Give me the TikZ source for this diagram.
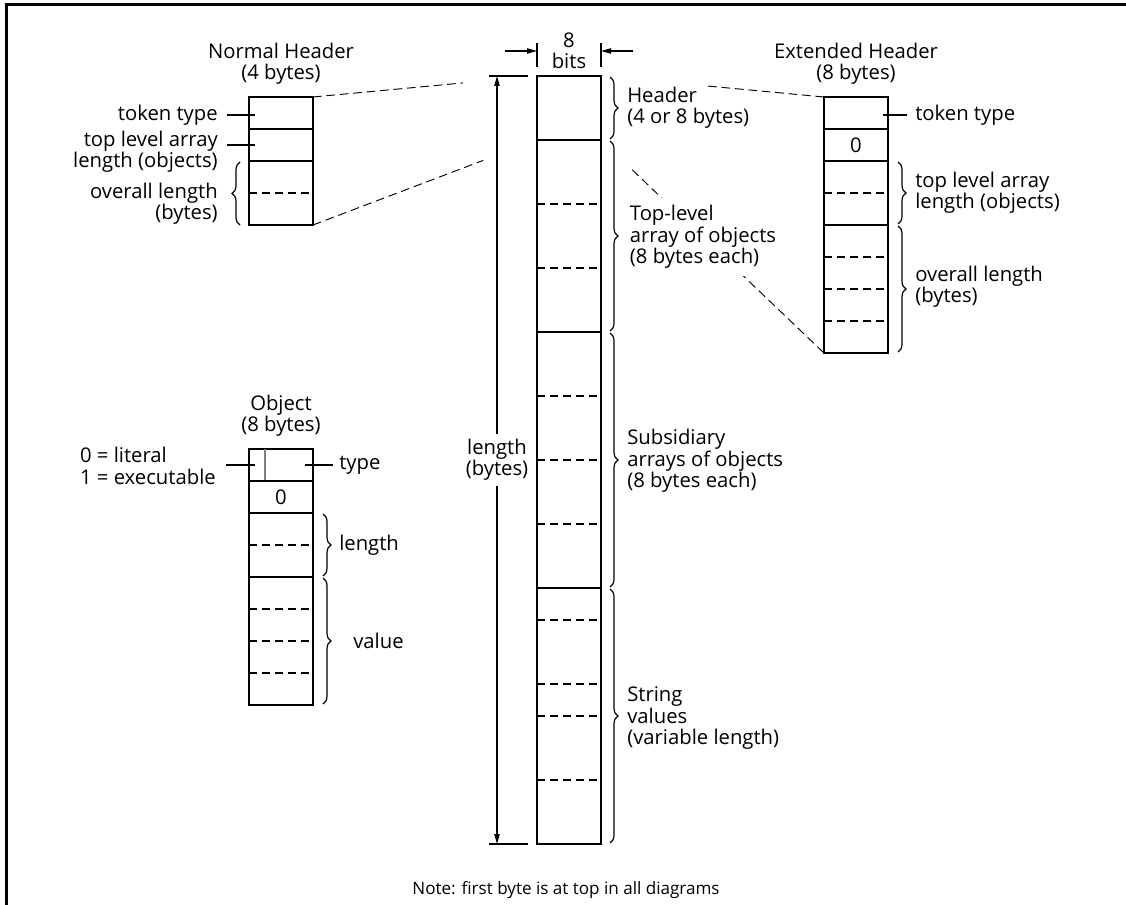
\documentclass[tikz,border=0pt]{standalone}
\usepackage{fontspec}
\setmainfont{Open Sans}
\usetikzlibrary{arrows.meta, positioning, calc, decorations.pathreplacing}
\tikzset{
	frame/.style   ={line width=1.6pt},
	cellbox/.style ={draw=black, line width=1.1pt},
	solidsep/.style={line width=1.1pt},
	dashsep/.style ={line width=0.9pt, dash pattern=on 6pt off 3.75pt},
	zoomline/.style={line width=0.7pt, dash pattern=on 6.5pt off 3.6pt},
	lead/.style    ={line width=0.9pt},
	brc/.style     ={decorate, decoration={brace, amplitude=6pt}, line width=0.9pt},
	lbl/.style     ={align=left, inner sep=0pt},
	rlbl/.style    ={align=right, inner sep=0pt},
	ttl/.style     ={align=center, inner sep=0pt},
	dimarrow/.style={-{Triangle[length=7.5pt, width=4pt]}, line width=0.8pt},
}

\begin{document}
\begin{tikzpicture}[x=0.75pt, y=-0.75pt, font=\fontsize{15.2}{16}\selectfont]
	\useasboundingbox (0,0) rectangle (1126,905);
	% frame
	\draw[frame] (6.5,910) -- (6.5,4.5) -- (1130,4.5);

	% main column
	\coordinate (colNW) at (537,76);
	\coordinate (colNE) at (601,76);
	\coordinate (colHW) at (537,140);
	\coordinate (colHE) at (601,140);
	\draw[cellbox] (colNW) rectangle (601,844);
	\foreach \y in {140,332,588} \draw[solidsep] (537,\y) -- (601,\y);
	\foreach \y in {204,268,396,460,524,620,684,716,780} \draw[dashsep] (537,\y) -- (601,\y);
	% width 8 bits
	\draw[lead] (537,43) -- (537,67);
	\draw[lead] (601,43) -- (601,67);
	\coordinate (wlin) at (537,51);
	\coordinate (wlout) at (505,51);
	\coordinate (wrin) at (601,51);
	\coordinate (wrout) at (633,51);
	\draw[dimarrow] (wlout) -- (wlin);
	\draw[dimarrow] (wrout) -- (wrin);
	\node[ttl] (bits) at (569,51) {8\\bits};
	% length
	\coordinate (lentop) at (497,76);
	\coordinate (lenbot) at (497,844);
	\draw[lead] (489,76) -- (528,76);
	\draw[lead] (489,844) -- (528,844);
	\node[ttl, fill=white, inner sep=4pt] (lenlbl) at (497,460) {length\\(bytes)};
	\draw[dimarrow] (lenlbl) -- (lentop);
	\draw[dimarrow] (lenlbl) -- (lenbot);
	% braces of main column
	\draw[brc] (610,77) -- (610,139);
	\draw[brc] (610,141) -- (610,331);
	\draw[brc] (610,333) -- (610,587);
	\draw[brc] (610,589) -- (610,843);

	% normal header
	\coordinate (nhNE) at (313,97);
	\coordinate (nhSE) at (313,225);
	\draw[cellbox] (249,97) rectangle (nhSE);
	\foreach \y in {129,161} \draw[solidsep] (249,\y) -- (313,\y);
	\draw[dashsep] (249,193) -- (313,193);
	\node[ttl] (nhttl) at (281,64) {Normal Header\\(4 bytes)};
	\node[rlbl, anchor=east] (nhtok) at (218,115) {token type};
	\node[rlbl, anchor=east] (nhtop) at (218,152) {top level array\\length (objects)};
	\node[rlbl, anchor=east] (nhall) at (218,204) {overall length\\(bytes)};
	\coordinate (nhtokin) at (255,115);
	\coordinate (nhtopin) at (255,145);
	\draw[lead, shorten <=6.5pt] (nhtok) -- (nhtokin);
	\draw[lead, shorten <=6.5pt] (nhtopin -| nhtop.east) -- (nhtopin);
	\draw[brc] (240,225) -- (240,162);
	% zoom lines to main column
	\draw[zoomline] (nhNE) -- ($(nhNE)!0.67!(colNW)$);
	\draw[zoomline] (nhSE) -- ($(nhSE)!0.76!(colHW)$);

	% extended header
	\coordinate (exNW) at (824,97);
	\coordinate (exSW) at (824,353);
	\draw[cellbox] (exNW) rectangle (888,353);
	\foreach \y in {129,161,225} \draw[solidsep] (824,\y) -- (888,\y);
	\foreach \y in {193,257,289,321} \draw[dashsep] (824,\y) -- (888,\y);
	\node[ttl] (exttl) at (856,64) {Extended Header\\(8 bytes)};
	\node (exzero) at (856,145) {0};
	\node[lbl, anchor=west] (extok) at (915,115) {token type};
	\coordinate (extokin) at (883,115);
	\draw[lead, shorten <=6pt] (extok) -- (extokin);
	\draw[brc] (898,162) -- (898,224);
	\draw[brc] (898,226) -- (898,352);
	\node[lbl, anchor=west] (extop) at (915,193) {top level array\\length (objects)};
	\node[lbl, anchor=west] (exall) at (915,287) {overall length\\(bytes)};
	\draw[zoomline] (exNW) -- ($(exNW)!0.54!(colNE)$);
	\draw[zoomline] ($(colHE)!0.14!(exSW)$) -- (exSW);

	% labels of main column (white, over the zoom line)
	\node[lbl, anchor=west] (hdrlbl) at (627,108) {Header\\(4 or 8 bytes)};
	\node[lbl, anchor=west, fill=white, inner xsep=2pt, inner ysep=6pt] (toplbl) at (627,237) {Top-level\\array of objects\\(8 bytes each)};
	\node[lbl, anchor=west] (sublbl) at (627,461) {Subsidiary\\arrays of objects\\(8 bytes each)};
	\node[lbl, anchor=west] (strlbl) at (627,718) {String\\values\\(variable length)};

	% object
	\draw[cellbox] (249,449) rectangle (313,705);
	\draw[line width=1.1pt, gray] (265,449) -- (265,481);
	\foreach \y in {481,513,577} \draw[solidsep] (249,\y) -- (313,\y);
	\foreach \y in {545,609,641,673} \draw[dashsep] (249,\y) -- (313,\y);
	\node[ttl] (objttl) at (281,416) {Object\\(8 bytes)};
	\node (objzero) at (281,497) {0};
	\node[lbl, anchor=east] (objlit) at (216,466) {0 = literal\\1 = executable};
	\coordinate (objlitin) at (255,465);
	\draw[lead, shorten <=7.5pt] (objlit.east |- objlitin) -- (objlitin);
	\node[lbl, anchor=west] (objtype) at (339,465) {type};
	\coordinate (objtypein) at (305,465);
	\draw[lead, shorten <=4.5pt] (objtype) -- (objtypein);
	\draw[brc] (323,514) -- (323,576);
	\draw[brc] (323,578) -- (323,704);
	\node[lbl, anchor=west] (objlen) at (339,545) {length};
	\node[lbl, anchor=west] (objval) at (353,641) {value};

	% note
	\node[font=\fontsize{12.8}{14}\selectfont] (note) at (566,890) {Note: first byte is at top in all diagrams};
\end{tikzpicture}
\end{document}
